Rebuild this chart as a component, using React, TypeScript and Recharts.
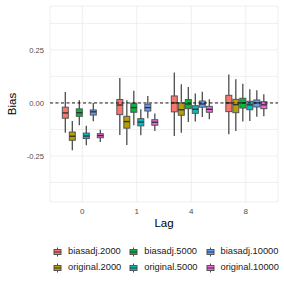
import React from 'react';
import {
  Bar,
  CartesianGrid,
  ComposedChart,
  ReferenceLine,
  XAxis,
  YAxis,
} from 'recharts';

// lags on the x axis
const lags = ['0', '1', '4', '8'];

const seriesNames = [
  'biasadj.2000',
  'original.2000',
  'biasadj.5000',
  'original.5000',
  'biasadj.10000',
  'original.10000',
];

const seriesColors = ['#F8766D', '#B79F00', '#00BA38', '#00BFC4', '#619CFF', '#F564E3'];

// [min, q1, median, q3, max] per lag
const biasadj2000 = [
  [-0.14, -0.072, -0.047, -0.02, 0.052],
  [-0.151, -0.055, -0.01, 0.016, 0.117],
  [-0.156, -0.042, 0.0, 0.033, 0.143],
  [-0.148, -0.041, 0.0, 0.036, 0.134],
];
const original2000 = [
  [-0.223, -0.176, -0.157, -0.137, -0.085],
  [-0.198, -0.119, -0.088, -0.063, 0.013],
  [-0.14, -0.058, -0.032, 0.0, 0.088],
  [-0.132, -0.046, -0.008, 0.017, 0.112],
];
const biasadj5000 = [
  [-0.105, -0.063, -0.046, -0.028, 0.013],
  [-0.105, -0.044, -0.022, -0.001, 0.057],
  [-0.09, -0.027, -0.005, 0.016, 0.075],
  [-0.088, -0.024, 0.0, 0.022, 0.091],
];
const original5000 = [
  [-0.2, -0.168, -0.156, -0.142, -0.108],
  [-0.152, -0.108, -0.09, -0.074, -0.03],
  [-0.088, -0.049, -0.03, -0.013, 0.044],
  [-0.085, -0.032, -0.009, 0.008, 0.065],
];
const biasadj10000 = [
  [-0.086, -0.057, -0.042, -0.033, 0.0],
  [-0.072, -0.038, -0.022, -0.006, 0.033],
  [-0.066, -0.02, -0.005, 0.009, 0.053],
  [-0.065, -0.019, 0.0, 0.014, 0.06],
];
const original10000 = [
  [-0.184, -0.164, -0.154, -0.145, -0.126],
  [-0.132, -0.105, -0.091, -0.079, -0.05],
  [-0.077, -0.044, -0.03, -0.016, 0.017],
  [-0.063, -0.027, -0.009, 0.006, 0.041],
];

const yTicks = [-0.375, -0.25, -0.125, 0, 0.125, 0.25, 0.375];
const yLabels = [-0.25, 0, 0.25];

const allStats = [biasadj2000, original2000, biasadj5000, original5000, biasadj10000, original10000];

const data = lags.map((lag, li) => {
  const row: any = { lag };
  allStats.forEach((s, si) => {
    row[`box${si}`] = [s[li][1], s[li][3]];
    row[`stats${si}`] = s[li];
  });
  return row;
});

const FONT = '"Liberation Sans", Arial, sans-serif';

function BoxShape(props: any) {
  const { x, y, width, height, payload, idx } = props;
  const [mn, q1, med, q3, mx] = payload[`stats${idx}`];
  const top = Math.min(y, y + height);
  const h = Math.abs(height);
  const ppu = h / (q3 - q1);
  const wTop = top - (mx - q3) * ppu;
  const wBot = top + h + (q1 - mn) * ppu;
  const medY = top + (q3 - med) * ppu;
  const cx = x + width / 2;
  return (
    <g>
      <line x1={cx} x2={cx} y1={wTop} y2={wBot} stroke="#4d4d4d" strokeWidth={1.3} />
      <rect
        x={x + 0.5}
        y={top}
        width={width - 1}
        height={h}
        fill={seriesColors[idx]}
        stroke="#555"
        strokeWidth={1}
      />
      <line x1={x + 0.5} x2={x + width - 0.5} y1={medY} y2={medY} stroke="#333" strokeWidth={1.4} />
    </g>
  );
}

function LegendKey({ color }: { color: string }) {
  return (
    <svg width={9} height={12}>
      <line x1={4.5} x2={4.5} y1={1.5} y2={10.5} stroke="#4d4d4d" strokeWidth={1} />
      <rect x={1} y={3.5} width={7} height={5} fill={color} stroke="#555" strokeWidth={1} />
      <line x1={1} x2={8} y1={6} y2={6} stroke="#333" strokeWidth={1} />
    </svg>
  );
}

export default function App() {
  const order = [0, 2, 4, 1, 3, 5];
  return (
    <div
      style={{
        position: 'fixed',
        left: 0,
        top: 0,
        width: 284,
        height: 284,
        background: '#fff',
        fontFamily: FONT,
      }}
    >
      <ComposedChart
        width={284}
        height={284}
        data={data}
        margin={{ top: 6, right: 6, bottom: 0, left: 0 }}
        barCategoryGap="12.5%"
        barGap={0}
      >
        <CartesianGrid stroke="#ebebeb" strokeWidth={0.8} />
        <XAxis
          dataKey="lag"
          type="category"
          tickLine={false}
          axisLine={false}
          padding={{ left: 5, right: 5 }}
          height={82}
          tickSize={3}
          tickMargin={3}
          tick={{ fontSize: 8, fill: '#4d4d4d', fontFamily: FONT }}
          label={({ viewBox }: any) => (
            <text
              x={viewBox.x + viewBox.width / 2}
              y={viewBox.y + 25}
              textAnchor="middle"
              fontSize={11.5}
              fill="#000"
              fontFamily={FONT}
            >
              Lag
            </text>
          )}
        />
        <YAxis
          type="number"
          domain={[-0.467, 0.457]}
          allowDataOverflow
          ticks={yTicks}
          interval={0}
          width={50}
          tickLine={false}
          axisLine={false}
          tickSize={3}
          tickMargin={3}
          tick={{ fontSize: 7.6, fill: '#4d4d4d', fontFamily: FONT }}
          tickFormatter={(v: number) => (yLabels.includes(v) ? v.toFixed(2) : '')}
          label={({ viewBox }: any) => {
            const lx = viewBox.x + 13;
            const ly = viewBox.y + viewBox.height / 2;
            return (
              <text
                x={lx}
                y={ly}
                transform={`rotate(-90 ${lx} ${ly})`}
                textAnchor="middle"
                dominantBaseline="middle"
                fontSize={11.5}
                fill="#000"
                fontFamily={FONT}
              >
                Bias
              </text>
            );
          }}
        />
        {seriesNames.map((name, i) => (
          <Bar
            key={name}
            dataKey={`box${i}`}
            name={name}
            isAnimationActive={false}
            shape={(p: any) => <BoxShape {...p} idx={i} />}
          />
        ))}
        <ReferenceLine y={0} stroke="#000" strokeDasharray="3 2.5" strokeWidth={0.9} />
      </ComposedChart>
      <div
        style={{
          position: 'absolute',
          left: 53,
          top: 245,
          display: 'grid',
          gridTemplateColumns: 'auto auto auto',
          columnGap: 8,
          rowGap: 3,
          fontSize: 9.3,
          color: '#1a1a1a',
          lineHeight: '13px',
        }}
      >
        {order.map((i) => (
          <div key={i} style={{ display: 'flex', alignItems: 'center', gap: 6 }}>
            <LegendKey color={seriesColors[i]} />
            <span>{seriesNames[i]}</span>
          </div>
        ))}
      </div>
    </div>
  );
}
